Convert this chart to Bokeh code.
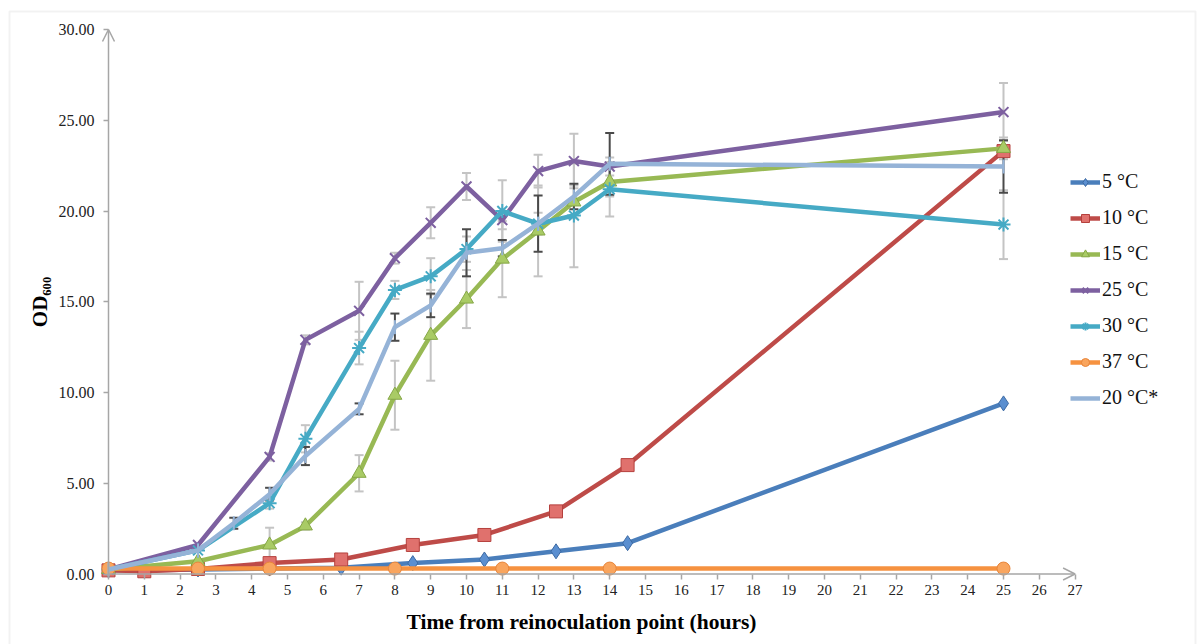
import math
from bokeh.plotting import figure
from bokeh.models import (Range1d, FixedTicker, NumeralTickFormatter, Arrow, OpenHead,
                          Whisker, TeeHead, ColumnDataSource, Legend, LegendItem, BoxAnnotation)
from bokeh.embed import file_html
from bokeh.resources import INLINE

SERIF = "Liberation Serif"

# ---- data ----
t_5 = [0, 1, 2.5, 4.5, 6.5, 8.5, 10.5, 12.5, 14.5, 25]
od_5 = [0.2, 0.2, 0.25, 0.3, 0.35, 0.6, 0.8, 1.25, 1.7, 9.4]

t_10 = [0, 1, 2.5, 4.5, 6.5, 8.5, 10.5, 12.5, 14.5, 25]
od_10 = [0.2, 0.15, 0.28, 0.6, 0.8, 1.6, 2.15, 3.45, 6.0, 23.3]

t_15 = [0, 2.5, 4.5, 5.5, 7, 8, 9, 10, 11, 12, 13, 14, 25]
od_15 = [0.25, 0.7, 1.6, 2.65, 5.55, 9.85, 13.15, 15.15, 17.35, 18.9, 20.5, 21.6, 23.45]
err_15 = [0, 0, 0.95, 0.2, 1.0, 1.9, 2.5, 1.6, 2.1, 2.5, 0.9, 0.8, 0.6]

t_25 = [0, 2.5, 4.5, 5.5, 7, 8, 9, 10, 11, 12, 13, 14, 25]
od_25 = [0.25, 1.6, 6.45, 12.9, 14.5, 17.4, 19.35, 21.35, 19.5, 22.2, 22.75, 22.45, 25.45]
err_25 = [0, 0, 0.2, 0.25, 1.6, 0.3, 0.85, 0.75, 0.5, 0.9, 1.5, 0.5, 1.6]

t_30 = [0, 2.5, 4.5, 5.5, 7, 8, 9, 10, 11, 12, 13, 14, 25]
od_30 = [0.25, 1.3, 3.9, 7.45, 12.45, 15.65, 16.4, 17.9, 20.0, 19.3, 19.75, 21.2, 19.25]
err_30 = [0, 0, 0.3, 0.75, 0.9, 0.5, 1.0, 0.7, 1.7, 0.6, 2.85, 1.5, 1.9]

t_37 = [0, 2.5, 4.5, 8, 11, 14, 25]
od_37 = [0.3, 0.3, 0.3, 0.3, 0.3, 0.3, 0.3]

t_20 = [0, 2.5, 3.5, 4.5, 5.5, 7, 8, 9, 10, 11, 12, 13, 14, 25]
od_20 = [0.25, 1.3, 2.8, 4.4, 6.5, 9.1, 13.6, 14.8, 17.7, 17.95, 19.3, 20.8, 22.6, 22.45]
err_20 = [0, 0, 0.3, 0.35, 0.5, 0.3, 0.75, 0.65, 1.3, 0.45, 1.55, 0.7, 1.7, 1.45]

labels = ["5 °C", "10 °C", "15 °C", "25 °C", "30 °C", "37 °C", "20 °C*"]
x_ticks = list(range(0, 28))
y_ticks = [0, 5, 10, 15, 20, 25, 30]

# full-canvas frame; data 0 sits at (108, 573.5) px
PX_X = 35.8
PX_Y = 18.15
W, H = 1204, 644
x0_px, y0_px = 108.0, 573.5

p = figure(width=W, height=H, output_backend="svg", toolbar_location=None,
           x_range=Range1d(-x0_px / PX_X, (W - x0_px) / PX_X),
           y_range=Range1d(-(H - y0_px) / PX_Y, y0_px / PX_Y),
           min_border_left=0, min_border_right=0, min_border_top=0, min_border_bottom=0)
p.outline_line_color = None
p.grid.visible = False
p.background_fill_color = "white"
p.border_fill_color = "white"

# outer chart-area border
p.add_layout(BoxAnnotation(left=9, right=1195, bottom=-10, top=H - 11,
                           left_units="screen", right_units="screen",
                           bottom_units="screen", top_units="screen",
                           fill_alpha=0, line_color="#d4d4d4", line_width=2, level="underlay"))

for ax in (p.xaxis[0], p.yaxis[0]):
    ax.fixed_location = 0
    ax.axis_line_color = None
    ax.major_tick_line_color = "#a6a6a6"
    ax.major_tick_line_width = 1.5
    ax.major_tick_out = 5
    ax.major_tick_in = 0
    ax.minor_tick_line_color = None
    ax.major_label_text_font = SERIF
    ax.major_label_text_color = "#222222"
    ax.axis_label_text_font = SERIF
    ax.axis_label_text_font_style = "bold"
    ax.axis_label_text_color = "black"

p.xaxis.major_label_text_font_size = "15px"
p.yaxis.major_label_text_font_size = "16px"
p.xaxis.bounds = (-0.6, 27)
p.yaxis.bounds = (0, 30)
p.xaxis.ticker = FixedTicker(ticks=x_ticks)
p.yaxis.ticker = FixedTicker(ticks=y_ticks)
p.yaxis.formatter = NumeralTickFormatter(format="0.00")
p.xaxis.axis_label = "Time from reinoculation point (hours)"
p.yaxis.axis_label = "OD₆₀₀"
p.xaxis.axis_label_text_font_size = "21.5px"
p.yaxis.axis_label_text_font_size = "21px"
p.xaxis.major_label_standoff = 6
p.yaxis.major_label_standoff = 9
p.xaxis.axis_label_standoff = 11
p.yaxis.axis_label_standoff = 4

# axis lines with arrows
AX = "#a6a6a6"
p.add_layout(Arrow(x_start=0, y_start=0, x_end=27, y_end=0, line_color=AX, line_width=1.5,
                   end=OpenHead(size=12, line_color=AX, line_width=1.5)))
p.add_layout(Arrow(x_start=0, y_start=0, x_end=0, y_end=30, line_color=AX, line_width=1.5,
                   end=OpenHead(size=12, line_color=AX, line_width=1.5)))

GRAY = "#c4c4c4"
DARK = "#4a4a4a"


def add_err(t, y, e, color):
    xs = [a for a, b in zip(t, e) if b > 0]
    up = [c + b for c, b in zip(y, e) if b > 0]
    lo = [c - b for c, b in zip(y, e) if b > 0]
    src = ColumnDataSource(dict(x=xs, upper=up, lower=lo))
    w = Whisker(base="x", upper="upper", lower="lower", source=src, dimension="height",
                line_color=color, line_width=2, level="underlay",
                upper_head=TeeHead(size=9, line_color=color, line_width=2),
                lower_head=TeeHead(size=9, line_color=color, line_width=2))
    p.add_layout(w)


add_err(t_15, od_15, err_15, GRAY)
add_err(t_25, od_25, err_25, GRAY)
add_err(t_30, od_30, err_30, GRAY)
add_err(t_20, od_20, err_20, DARK)

LW = 4.5
items = []


def series(t, y, lc, marker, size, fill, mline, label, angle=0.0, mlw=1.0):
    r1 = p.line(t, y, line_color=lc, line_width=LW, line_join="round")
    r2 = p.scatter(t, y, marker=marker, size=size, fill_color=fill, line_color=mline,
                   line_width=mlw, angle=angle)
    items.append(LegendItem(label=label, renderers=[r1, r2]))


series(t_5, od_5, "#4a7ebb", "diamond", 15, "#5b8fd0", "#3d6aa3", labels[0])
series(t_10, od_10, "#be4b48", "square", 13, "#e0716d", "#b5403d", labels[1])
series(t_15, od_15, "#98b954", "triangle", 14, "#a9cb65", "#86a747", labels[2])
series(t_25, od_25, "#7d60a0", "x", 14, None, "#7d60a0", labels[3], mlw=2)
series(t_30, od_30, "#46aac5", "asterisk", 14, None, "#46aac5", labels[4], mlw=2)
series(t_37, od_37, "#f69240", "circle", 13, "#f9a55e", "#e8853a", labels[5])
series(t_20, od_20, "#95b3d7", "dash", 14, None, "#95b3d7", labels[6], angle=math.pi / 2, mlw=2)

legend = Legend(items=items, location=(1070, 235), orientation="vertical",
                label_text_font=SERIF, label_text_font_size="20px", label_text_color="#111111",
                glyph_width=30, glyph_height=20, label_height=20, spacing=13, padding=0, margin=0,
                label_standoff=2, background_fill_alpha=0, border_line_color=None)
p.add_layout(legend)

open("out.html", "w").write(file_html(p, INLINE))
